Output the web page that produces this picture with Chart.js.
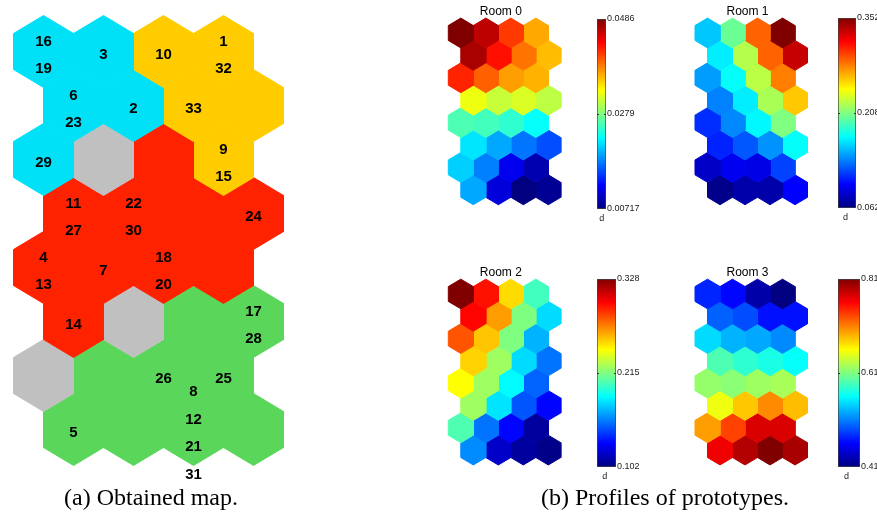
<!DOCTYPE html>
<html><head><meta charset="utf-8">
<script src="https://cdn.jsdelivr.net/npm/chart.js@4.4.1/dist/chart.umd.min.js"></script>
<style>
html,body{margin:0;padding:0;background:#fff;overflow:hidden;width:877px;height:516px;position:relative;}
canvas{position:absolute;}
.cap{position:absolute;font-family:"Liberation Serif","Times New Roman",serif;font-size:24px;line-height:24px;color:#000;white-space:nowrap;transform:translate(-50%,-50%);}
</style></head><body>
<canvas id="map" width="300" height="490" style="left:0px;top:0px"></canvas>
<canvas id="room0" width="140" height="215" style="left:440px;top:0px"></canvas>
<canvas id="room1" width="140" height="215" style="left:685px;top:0px"></canvas>
<canvas id="room2" width="140" height="215" style="left:440px;top:258px"></canvas>
<canvas id="room3" width="140" height="215" style="left:685px;top:258px"></canvas>
<canvas id="cb0" width="59" height="220" style="left:597px;top:9px"></canvas>
<canvas id="cb1" width="68" height="220" style="left:838px;top:8px"></canvas>
<canvas id="cb2" width="69" height="218" style="left:597px;top:269px"></canvas>
<canvas id="cb3" width="72" height="218" style="left:838px;top:269px"></canvas>
<div class="cap" style="left:151px;top:497px">(a) Obtained map.</div>
<div class="cap" style="left:665px;top:497px">(b) Profiles of prototypes.</div>
<script>
// ---------- DATA ----------
// Obtained map: cluster of each neuron (8 rows x 4 cols), 'n' = empty neuron
const mapClusters = [
  ['c','c','y','y'],
  ['c','c','y','y'],
  ['c','n','r','y'],
  ['r','r','r','r'],
  ['r','r','r','r'],
  ['r','n','g','g'],
  ['n','g','g','g'],
  ['g','g','g','g']
];
// Sample labels assigned to each neuron
const mapLabels = [
  [['16','19'],['3'],['10'],['1','32']],
  [['6','23'],['2'],['33'],[]],
  [['29'],[],[],['9','15']],
  [['11','27'],['22','30'],[],['24']],
  [['4','13'],['7'],['18','20'],[]],
  [['14'],[],[],['17','28']],
  [[],[],['26'],['25']],
  [['5'],[],['8','12','21','31'],[]]
];
const roomTitles = ['Room 0','Room 1','Room 2','Room 3'];
// prototype values (8 rows x 4 cols)
const room0 = [
  [0.0486,0.0461,0.0411,0.0366],
  [0.0469,0.0428,0.0387,0.0358],
  [0.0420,0.0395,0.0370,0.0362],
  [0.0324,0.0308,0.0316,0.0304],
  [0.0258,0.0254,0.0246,0.0229],
  [0.0217,0.0192,0.0171,0.0155],
  [0.0208,0.0175,0.0117,0.0092],
  [0.0192,0.0109,0.0072,0.0080]
];
const room1 = [
  [0.155,0.201,0.288,0.352],
  [0.166,0.222,0.288,0.332],
  [0.143,0.172,0.224,0.280],
  [0.135,0.166,0.219,0.259],
  [0.111,0.137,0.169,0.207],
  [0.108,0.123,0.140,0.172],
  [0.082,0.094,0.091,0.117],
  [0.065,0.074,0.074,0.098]
];
const room2 = [
  [0.328,0.296,0.251,0.201],
  [0.299,0.265,0.215,0.179],
  [0.281,0.256,0.215,0.170],
  [0.253,0.222,0.179,0.156],
  [0.243,0.222,0.186,0.152],
  [0.222,0.181,0.149,0.131],
  [0.204,0.156,0.131,0.109],
  [0.161,0.118,0.109,0.104]
];
const room3 = [
  [0.474,0.462,0.426,0.410],
  [0.498,0.490,0.466,0.466],
  [0.546,0.530,0.526,0.514],
  [0.590,0.578,0.570,0.562],
  [0.618,0.614,0.622,0.626],
  [0.654,0.682,0.706,0.686],
  [0.698,0.734,0.774,0.774],
  [0.766,0.790,0.810,0.794]
];
const room0Range = [0.00717, 0.0486];
const room1Range = [0.062, 0.352];
const room2Range = [0.102, 0.328];
const room3Range = [0.41, 0.81];
const room0Ticks = ['0.00717','0.0279','0.0486'];
const room1Ticks = ['0.062','0.208','0.352'];
const room2Ticks = ['0.102','0.215','0.328'];
const room3Ticks = ['0.41','0.61','0.81'];
const colorbarLabel = 'd';

// ---------- STYLE ----------
const clusterColor = {c:'#00E1F8', y:'#FFCC00', r:'#FF2200', g:'#5AD75A', n:'#C0C0C0'};
function jet(t){
  t = Math.max(0, Math.min(1, t));
  const c = v => Math.round(255*Math.max(0, Math.min(1, v)));
  return 'rgb(' + c(1.5-Math.abs(4*t-3)) + ',' + c(1.5-Math.abs(4*t-2)) + ',' + c(1.5-Math.abs(4*t-1)) + ')';
}
function hexPts(cx, cy){
  return [[0,-2/3],[0.5,-1/3],[0.5,1/3],[0,2/3],[-0.5,1/3],[-0.5,-1/3],[0,-2/3]]
    .map(([dx,dy]) => ({x: cx+dx, y: cy+dy}));
}
function hexChart(id, colorGrid, geom, plugins){
  const cv = document.getElementById(id);
  const W = cv.width, H = cv.height;
  const left = parseFloat(cv.style.left), top = parseFloat(cv.style.top);
  const xmin = (left - geom.ox)/geom.cw, ymin = (top - geom.oy)/geom.rh;
  const datasets = [];
  colorGrid.forEach((row, r) => row.forEach((col, c) => {
    datasets.push({
      data: hexPts(c + (r % 2 ? 0.5 : 0), r),
      showLine: true, fill: 'shape',
      backgroundColor: col, borderColor: col, borderWidth: 1,
      pointRadius: 0, pointHoverRadius: 0, tension: 0
    });
  }));
  return new Chart(cv, {
    type: 'scatter',
    data: {datasets},
    options: {
      responsive: false, animation: false, devicePixelRatio: 1, events: [],
      layout: {padding: 0},
      plugins: {legend: {display: false}, tooltip: {enabled: false}},
      scales: {
        x: {type: 'linear', display: false, min: xmin, max: xmin + W/geom.cw},
        y: {type: 'linear', display: false, reverse: true, min: ymin, max: ymin + H/geom.rh}
      }
    },
    plugins: plugins || []
  });
}

// ---------- MAP ----------
const mapLabelPlugin = {
  id: 'mapLabels',
  afterDatasetsDraw(chart){
    const {ctx, scales: {x, y}} = chart;
    ctx.save();
    ctx.font = 'bold 15px "Liberation Sans", Arial, sans-serif';
    ctx.fillStyle = '#000';
    ctx.textAlign = 'center';
    ctx.textBaseline = 'middle';
    mapLabels.forEach((row, r) => row.forEach((labs, c) => {
      const n = labs.length;
      labs.forEach((s, i) => {
        const cx = c + (r % 2 ? 0.5 : 0);
        const cy = r + 0.07 + (i - (n-1)/2)*0.51;
        ctx.fillText(s, x.getPixelForValue(cx), y.getPixelForValue(cy));
      });
    }));
    ctx.restore();
  }
};
hexChart('map', mapClusters.map(row => row.map(k => clusterColor[k])),
  {ox: 43.5, oy: 51.5, cw: 60, rh: 54}, [mapLabelPlugin]);

// ---------- ROOMS ----------
function titlePlugin(text){
  return {
    id: 'roomTitle',
    afterDatasetsDraw(chart){
      const {ctx, scales: {x, y}} = chart;
      ctx.save();
      ctx.font = '12px "Liberation Sans", Arial, sans-serif';
      ctx.fillStyle = '#000';
      ctx.textAlign = 'center';
      ctx.textBaseline = 'middle';
      ctx.fillText(text, x.getPixelForValue(1.6), y.getPixelForValue(-0.95));
      ctx.restore();
    }
  };
}
const rooms = [room0, room1, room2, room3];
const ranges = [room0Range, room1Range, room2Range, room3Range];
const ticks = [room0Ticks, room1Ticks, room2Ticks, room3Ticks];
const geoms = [
  {ox: 460.8, oy: 33, cw: 25, rh: 22.4},
  {ox: 707.5, oy: 33, cw: 25, rh: 22.4},
  {ox: 460.8, oy: 294, cw: 25, rh: 22.3},
  {ox: 707.5, oy: 294, cw: 25, rh: 22.3}
];
rooms.forEach((vals, k) => {
  const [lo, hi] = ranges[k];
  hexChart('room' + k, vals.map(row => row.map(v => jet((v - lo)/(hi - lo)))), geoms[k], [titlePlugin(roomTitles[k])]);
});

// ---------- COLORBARS ----------
function colorbar(id, range, tickLabels){
  const cv = document.getElementById(id);
  const axisW = 50;
  const cbPlugin = {
    id: 'cbExtra',
    afterDraw(chart){
      const {ctx, chartArea: a, scales: {y}} = chart;
      ctx.save();
      ctx.strokeStyle = '#333';
      ctx.lineWidth = 1;
      const ym = Math.round(y.getPixelForValue((range[0]+range[1])/2)) + 0.5;
      ctx.beginPath();
      ctx.moveTo(a.left, ym); ctx.lineTo(a.left + 2, ym);
      ctx.moveTo(a.right - 2, ym); ctx.lineTo(a.right, ym);
      ctx.stroke();
      ctx.font = '9px "Liberation Sans", Arial, sans-serif';
      ctx.fillStyle = '#222';
      ctx.textAlign = 'center';
      ctx.textBaseline = 'middle';
      ctx.fillText(colorbarLabel, a.left + (a.right - a.left)*0.3 + 2, a.bottom + 10);
      ctx.restore();
    }
  };
  new Chart(cv, {
    type: 'bar',
    data: {labels: [''], datasets: [{
      data: [[range[0], range[1]]],
      backgroundColor: (c) => {
        const ca = c.chart.chartArea;
        if (!ca) return '#888';
        const g = c.chart.ctx.createLinearGradient(0, ca.bottom, 0, ca.top);
        [0, 0.125, 0.375, 0.625, 0.875, 1].forEach(s => g.addColorStop(s, jet(s)));
        return g;
      },
      borderColor: '#444', borderWidth: 1, borderSkipped: false,
      barPercentage: 1, categoryPercentage: 1
    }]},
    options: {
      responsive: false, animation: false, devicePixelRatio: 1, events: [],
      layout: {padding: {top: 10, bottom: 20, left: 0, right: 0}},
      plugins: {legend: {display: false}, tooltip: {enabled: false}},
      scales: {
        x: {display: false},
        y: {
          position: 'right', min: range[0], max: range[1],
          afterBuildTicks: s => { s.ticks = [{value: range[0]}, {value: (range[0]+range[1])/2}, {value: range[1]}]; },
          afterFit: s => { s.width = axisW; },
          grid: {display: false, drawTicks: false, tickLength: 0}, border: {display: false},
          ticks: {padding: 1, autoSkip: false, color: '#222',
            font: {size: 9, family: '"Liberation Sans", Arial, sans-serif'},
            callback: (v, i) => tickLabels[i]}
        }
      }
    },
    plugins: [cbPlugin]
  });
}
ranges.forEach((r, k) => colorbar('cb' + k, r, ticks[k]));
</script>
</body></html>
